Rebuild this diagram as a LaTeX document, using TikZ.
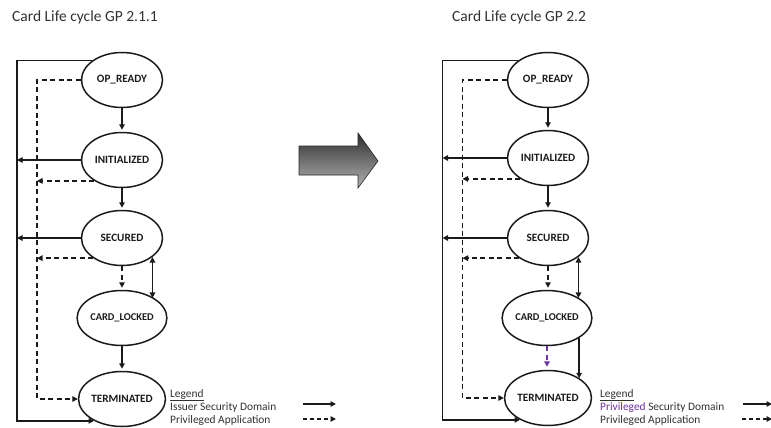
\documentclass[tikz,border=0pt]{standalone}
\usepackage{fontspec}
\setmainfont{Carlito}
\usetikzlibrary{arrows.meta,shapes.geometric,calc}
\definecolor{privpurple}{HTML}{7030A0}
\definecolor{ink}{HTML}{1A1A1A}
\begin{document}
\begin{tikzpicture}[x=1pt,y=-1pt,
  state/.style={draw=ink, ellipse, line width=1.5pt, minimum width=81pt, minimum height=55pt,
    inner sep=0pt, text=ink, font=\fontsize{11.2}{13}\selectfont\bfseries},
  smallstate/.style={state, font=\fontsize{10.4}{12}\selectfont\bfseries},
  conn/.style={draw=ink, line width=1.5pt},
  arr/.style={conn, -{Triangle[length=5.5pt,width=5.5pt]}},
  dbl/.style={conn, {Triangle[length=5.5pt,width=5.5pt]}-{Triangle[length=5.5pt,width=5.5pt]}},
  dsh/.style={dash pattern=on 5pt off 3.5pt},
  titletext/.style={anchor=base west, inner sep=0pt, text=ink!90, font=\fontsize{15.5}{18}\selectfont},
  legtext/.style={anchor=base west, inner sep=0pt, text=ink!90, font=\fontsize{11.4}{13}\selectfont}
]
\useasboundingbox (0,0) rectangle (771,428);
\clip (0,0) rectangle (771,428);

% ---------- titles ----------
\node[titletext] (t1) at (12,21.5) {Card Life cycle GP 2.1.1};
\node[titletext] (t2) at (452,21.5) {Card Life cycle GP 2.2};

% ---------- left diagram ----------
\node[state] (op1) at (122,80) {OP\_READY};
\node[state] (in1) at (122,160) {INITIALIZED};
\node[state] (se1) at (122,238) {SECURED};
\node[smallstate] (cl1) at (122,318) {CARD\_LOCKED};
\node[state] (te1) at (122,399) {TERMINATED};
\coordinate (srail1) at (17,0);
\coordinate (drail1) at (37,0);

\draw[arr] (op1.147) -- (op1.147 -| srail1) -- (te1.218 -| srail1) -- (te1.218);
\draw[arr,dsh] (op1.west) -- (op1.west -| drail1) -- (te1.west -| drail1) -- (te1.west);
\draw[arr,shorten >=2pt] (op1.south) -- (in1.north);
\draw[arr,shorten >=2pt] (in1.south) -- (se1.north);
\draw[arr] (in1.west) -- (in1.west -| srail1);
\draw[arr,dsh] (in1.217) -- (in1.217 -| drail1);
\draw[arr] (se1.west) -- (se1.west -| srail1);
\draw[arr,dsh] (se1.215) -- (se1.215 -| drail1);
\draw[arr,dsh,shorten >=2pt] (se1.south) -- (cl1.north);
\draw[dbl] (se1.-32) -- (se1.-32 |- cl1.32);
\draw[arr,shorten >=2pt] (cl1.south) -- (te1.north);

% legend left
\node[legtext] (lg1) at (170,397) {\underline{Legend}};
\node[legtext] (lg1a) at (170,410.5) {Issuer Security Domain};
\node[legtext] (lg1b) at (170,423.5) {Privileged Application};
\coordinate (la1s) at (303,404);
\coordinate (la1e) at (336,404);
\coordinate (lb1s) at (303,419);
\coordinate (lb1e) at (336,419);
\draw[arr] (la1s) -- (la1e);
\draw[arr,dash pattern=on 4pt off 3pt] (lb1s) -- (lb1e);

% ---------- block arrow ----------
\shadedraw[top color=black!82, bottom color=black!30, draw=black!85, line width=0.6pt]
  (299,146) -- (358,146) -- (358,133) -- (378,161) -- (358,188) -- (358,175) -- (299,175) -- cycle;

% ---------- right diagram ----------
\node[state] (op2) at (548,80) {OP\_READY};
\node[state] (in2) at (548,158) {INITIALIZED};
\node[state] (se2) at (548,238) {SECURED};
\node[smallstate] (cl2) at (547,318) {CARD\_LOCKED};
\node[state] (te2) at (548,398) {TERMINATED};
\coordinate (srail2) at (442.5,0);
\coordinate (drail2) at (462.5,0);

\draw[arr] (op2.147) -- (op2.147 -| srail2) -- (te2.218 -| srail2) -- (te2.218);
\draw[arr,dsh] (op2.west) -- (op2.west -| drail2) -- (te2.west -| drail2) -- (te2.west);
\draw[arr,shorten >=2pt] (op2.south) -- (in2.north);
\draw[arr,shorten >=2pt] (in2.south) -- (se2.north);
\draw[arr] (in2.west) -- (in2.west -| srail2);
\draw[arr,dsh] (in2.217) -- (in2.217 -| drail2);
\draw[arr] (se2.west) -- (se2.west -| srail2);
\draw[arr,dsh] (se2.215) -- (se2.215 -| drail2);
\draw[arr,dsh,shorten >=2pt] (se2.south) -- (se2.south |- cl2.north);
\draw[dbl] (se2.-32) -- (se2.-32 |- cl2.32);
\draw[arr,dsh,draw=privpurple,-{Triangle[length=5.5pt,width=5.5pt,fill=privpurple]},shorten >=3pt] (cl2.south) -- (cl2.south |- te2.north);
\draw[arr] (cl2.-32) -- (cl2.-32 |- te2.32);

% legend right
\node[legtext] (lg2) at (600,397) {\underline{Legend}};
\node[legtext] (lg2a) at (600,410.5) {\textcolor{privpurple}{Privileged} Security Domain};
\node[legtext] (lg2b) at (600,423.5) {Privileged Application};
\coordinate (la2s) at (743,404);
\coordinate (la2e) at (772,404);
\coordinate (lb2s) at (742,419);
\coordinate (lb2e) at (772,419);
\draw[arr] (la2s) -- (la2e);
\draw[arr,dash pattern=on 4pt off 3pt] (lb2s) -- (lb2e);
\end{tikzpicture}
\end{document}
